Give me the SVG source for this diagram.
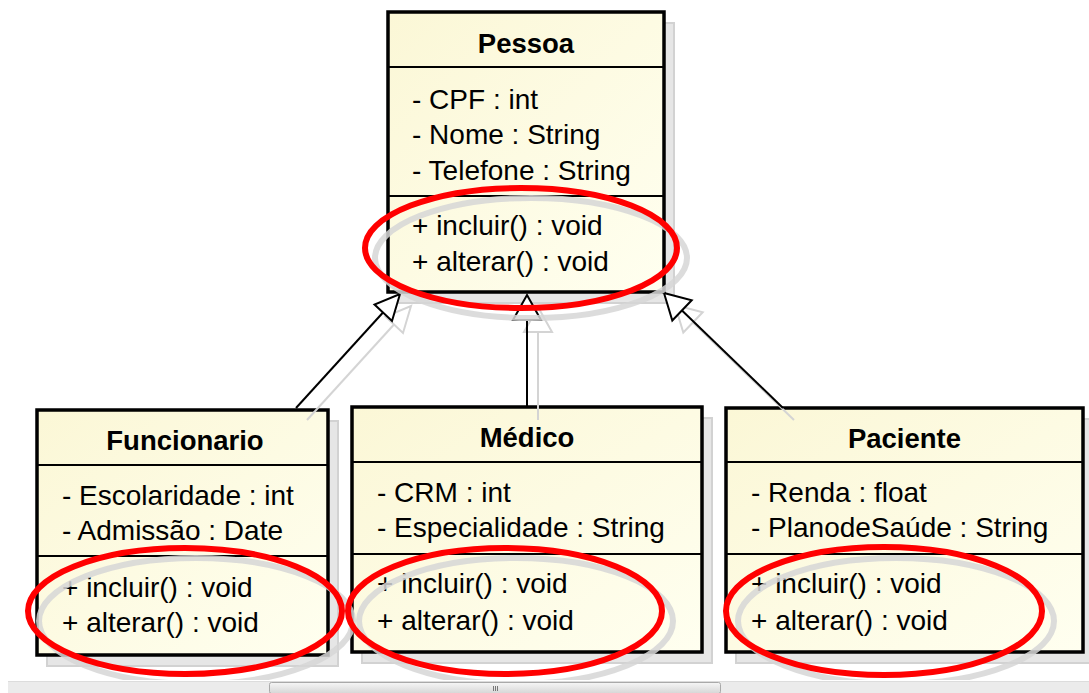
<svg xmlns="http://www.w3.org/2000/svg" width="1089" height="693" viewBox="0 0 1089 693">
<style>
.shadow{fill:#e6e6e6;stroke:#d2d2d2;stroke-width:2}
.box{fill:url(#cream);stroke:#000;stroke-width:3.5}
.div{stroke:#000;stroke-width:2}
.title{font-family:"Liberation Sans",Arial,sans-serif;font-size:27.5px;font-weight:bold;fill:#000;text-anchor:middle}
.txt{font-family:"Liberation Sans",Arial,sans-serif;font-size:28px;fill:#000}
.conn{stroke:#000;stroke-width:2;fill:none}
.head{stroke:#000;stroke-width:2;fill:#fff;stroke-linejoin:miter}
.gconn{stroke:#d4d4d4;stroke-width:2;fill:none}
.ghead{stroke:#d4d4d4;stroke-width:2;fill:none}
.red{fill:none;stroke:#ff0000;stroke-width:6}
.gred{fill:none;stroke:#d6d6d6;stroke-width:6;opacity:0.85}
</style>
<defs>
<linearGradient id="cream" x1="0" y1="0" x2="1" y2="1">
<stop offset="0" stop-color="#fbf7d6"/>
<stop offset="1" stop-color="#fffff0"/>
</linearGradient>
<linearGradient id="thumb" x1="0" y1="0" x2="0" y2="1">
<stop offset="0" stop-color="#f6f6f6"/>
<stop offset="1" stop-color="#d6d6d6"/>
</linearGradient>
</defs>
<rect width="1089" height="693" fill="#fff"/>

<g id="Pessoa">
<rect class="shadow" x="398" y="23" width="276" height="280"/>
<rect class="box" x="388" y="12" width="276" height="280"/>
<line class="div" x1="388" y1="67" x2="664" y2="67"/>
<line class="div" x1="388" y1="196" x2="664" y2="196"/>
<text class="title" x="526" y="53">Pessoa</text>
<text class="txt" x="412" y="109">- CPF : int</text>
<text class="txt" x="412" y="144">- Nome : String</text>
<text class="txt" x="412" y="180">- Telefone : String</text>
<text class="txt" x="412" y="235">+ incluir() : void</text>
<text class="txt" x="412" y="271">+ alterar() : void</text>
</g>

<g id="Funcionario">
<rect class="shadow" x="47" y="421" width="291" height="245"/>
<rect class="box" x="37" y="410" width="291" height="245"/>
<line class="div" x1="37" y1="465" x2="328" y2="465"/>
<line class="div" x1="37" y1="556" x2="328" y2="556"/>
<text class="title" x="185" y="450">Funcionario</text>
<text class="txt" x="62" y="505">- Escolaridade : int</text>
<text class="txt" x="62" y="540">- Admissão : Date</text>
<text class="txt" x="62" y="597">+ incluir() : void</text>
<text class="txt" x="62" y="632">+ alterar() : void</text>
</g>

<g id="Medico">
<rect class="shadow" x="362" y="418" width="350" height="245"/>
<rect class="box" x="352" y="407" width="350" height="245"/>
<line class="div" x1="352" y1="462" x2="702" y2="462"/>
<line class="div" x1="352" y1="554" x2="702" y2="554"/>
<text class="title" x="527" y="447">Médico</text>
<text class="txt" x="377" y="502">- CRM : int</text>
<text class="txt" x="377" y="537">- Especialidade : String</text>
<text class="txt" x="377" y="593">+ incluir() : void</text>
<text class="txt" x="377" y="630">+ alterar() : void</text>
</g>

<g id="Paciente">
<rect class="shadow" x="736" y="419" width="357" height="244"/>
<rect class="box" x="726" y="408" width="357" height="244"/>
<line class="div" x1="726" y1="462" x2="1083" y2="462"/>
<line class="div" x1="726" y1="554" x2="1083" y2="554"/>
<text class="title" x="904.5" y="448">Paciente</text>
<text class="txt" x="751" y="502">- Renda : float</text>
<text class="txt" x="751" y="537">- PlanodeSaúde : String</text>
<text class="txt" x="751" y="593">+ incluir() : void</text>
<text class="txt" x="751" y="630">+ alterar() : void</text>
</g>

<g id="connectors">
<g transform="translate(11,12)">
<line class="gconn" x1="296" y1="408" x2="383" y2="312.5"/>
<polygon class="ghead" points="400,294 392,321 374.5,304.5"/>
<line class="gconn" x1="527" y1="408" x2="527" y2="320"/>
<polygon class="ghead" points="527,295 541,320 513,320"/>
<line class="gconn" x1="783" y1="408" x2="682" y2="310.5"/>
<polygon class="ghead" points="664,293 691.7,300.3 672.3,320.5"/>
</g>
<line class="conn" x1="296" y1="408" x2="383" y2="312.5"/>
<polygon class="head" points="400,294 392,321 374.5,304.5"/>
<line class="conn" x1="527" y1="407" x2="527" y2="320"/>
<polygon class="head" points="527,295 541,320 513,320"/>
<line class="conn" x1="783" y1="408" x2="682" y2="310.5"/>
<polygon class="head" points="664,293 691.7,300.3 672.3,320.5"/>
</g>

<g id="highlights">
<ellipse class="gred" cx="531" cy="258" rx="156" ry="60"/>
<ellipse class="gred" cx="196" cy="621" rx="157" ry="63"/>
<ellipse class="gred" cx="516" cy="621" rx="157" ry="63"/>
<ellipse class="gred" cx="896" cy="621" rx="158" ry="63"/>
<ellipse class="red" cx="521" cy="248" rx="156" ry="60"/>
<ellipse class="red" cx="185" cy="611" rx="157" ry="63"/>
<ellipse class="red" cx="505" cy="611" rx="157" ry="63"/>
<ellipse class="red" cx="884" cy="611" rx="158" ry="64"/>
</g>

<g id="scrollbar">
<rect x="0" y="680" width="1089" height="13" fill="#fff"/>
<rect x="8" y="681" width="1081" height="12" fill="#ebebeb"/>
<line x1="8" y1="681.5" x2="1089" y2="681.5" stroke="#dcdcdc" stroke-width="1"/>
<rect x="269.5" y="682.5" width="451" height="11" rx="2" fill="url(#thumb)" stroke="#a9a9a9" stroke-width="1"/>
<g stroke="#777" stroke-width="1">
<line x1="493.5" y1="686" x2="493.5" y2="691"/>
<line x1="495.5" y1="686" x2="495.5" y2="691"/>
<line x1="497.5" y1="686" x2="497.5" y2="691"/>
</g>
</g>
</svg>
